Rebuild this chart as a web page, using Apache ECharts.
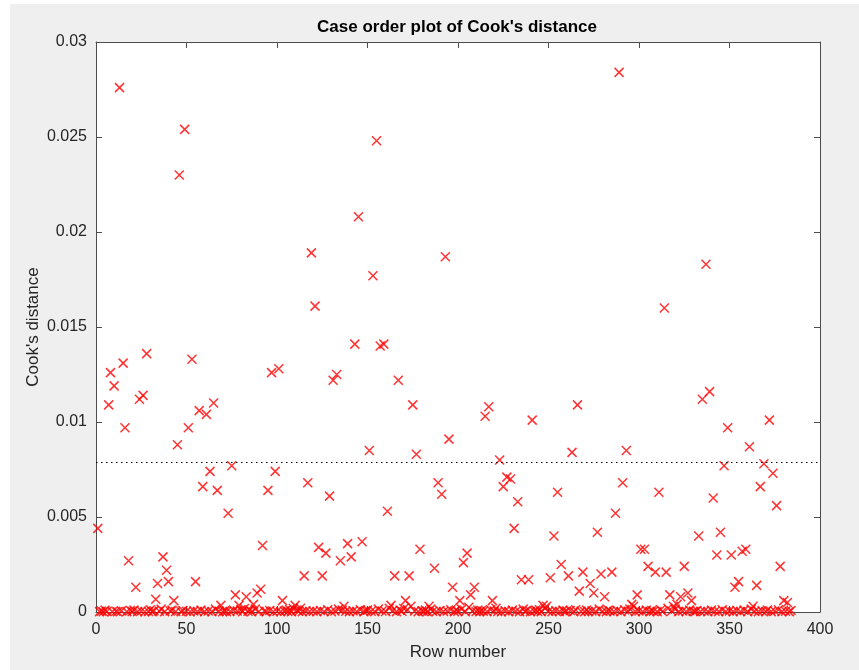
<!DOCTYPE html>
<html>
<head>
<meta charset="utf-8">
<title>Case order plot of Cook's distance</title>
<script src="https://cdn.jsdelivr.net/npm/echarts@6/dist/echarts.min.js"></script>
<style>
  html, body { margin: 0; padding: 0; background: #ffffff; }
  #frame { position: absolute; left: 10px; top: 4px; width: 849px; height: 666px; background: #efefef; }
  #chart { position: absolute; left: 0; top: 0; width: 859px; height: 670px; }
</style>
</head>
<body>
<div id="frame"></div>
<div id="chart"></div>
<script>
const cookD = [
  0.0044, 0.00002, 0.00005, 0.00001, 0.0001, 0.00003, 0.0109, 0.0126, 0.00002, 0.0119,
  0.00004, 0.00001, 0.0276, 0.00006, 0.0131, 0.0097, 0.00002, 0.0027, 0.00008, 0.00003,
  0.0001, 0.0013, 0.00002, 0.0112, 0.00005, 0.0114, 0.00001, 0.0136, 0.00003, 0.00012,
  0.00002, 0.00006, 0.00067, 0.0015, 0.00004, 0.00015, 0.0029, 0.00002, 0.0022, 0.0016,
  0.00005, 0.0001, 0.0006, 0.00003, 0.0088, 0.0230, 0.00002, 0.00008, 0.0254, 0.00004,
  0.0097, 0.00001, 0.0133, 0.00006, 0.0016, 0.00003, 0.0106, 0.0001, 0.0066, 0.00002,
  0.0104, 0.00005, 0.0074, 0.00002, 0.0110, 0.00015, 0.0064, 0.00004, 0.00035, 0.00001,
  0.00006, 0.00002, 0.0052, 0.00003, 0.0077, 0.0001, 0.0009, 0.00005, 0.00035, 0.00012,
  0.00002, 0.00018, 0.0008, 0.00004, 0.0001, 0.00002, 0.0004, 0.00015, 0.0010, 0.00003,
  0.0012, 0.0035, 0.00005, 0.00002, 0.0064, 0.00008, 0.0126, 0.00001, 0.0074, 0.00004,
  0.0128, 0.00002, 0.0006, 0.00005, 0.0001, 0.00003, 0.00012, 0.00002, 0.00018, 0.00035,
  0.0001, 0.00004, 0.0002, 0.00002, 0.0019, 0.00006, 0.0068, 0.00003, 0.0189, 0.00005,
  0.0161, 0.00002, 0.0034, 0.00008, 0.0019, 0.00003, 0.0031, 0.00012, 0.0061, 0.00002,
  0.0122, 0.00005, 0.0125, 0.00015, 0.0027, 0.0001, 0.0003, 0.00004, 0.0036, 0.00002,
  0.0029, 0.00006, 0.0141, 0.00003, 0.0208, 0.00012, 0.0037, 0.00002, 0.00008, 0.0001,
  0.0085, 0.00004, 0.0177, 0.00002, 0.0248, 0.00015, 0.0140, 0.00005, 0.0141, 0.00003,
  0.0053, 0.0002, 0.00035, 0.00008, 0.0019, 0.00002, 0.0122, 0.0001, 0.00004, 0.00018,
  0.0006, 0.00012, 0.0019, 0.0003, 0.0109, 0.00005, 0.0083, 0.00002, 0.0033, 0.00006,
  0.00003, 0.0001, 0.00002, 0.0003, 0.00015, 0.00004, 0.0023, 0.00002, 0.0068, 0.00008,
  0.0062, 0.00003, 0.0187, 0.00005, 0.0091, 0.00012, 0.0013, 0.00002, 0.0001, 0.00004,
  0.0006, 0.00015, 0.0026, 0.00002, 0.0031, 0.00025, 0.0009, 0.00006, 0.0013, 0.00003,
  0.0001, 0.00002, 0.00008, 0.00004, 0.0103, 0.00002, 0.0108, 0.00012, 0.0006, 0.00005,
  0.0002, 0.00003, 0.0080, 0.00001, 0.0066, 0.00006, 0.0071, 0.00002, 0.0070, 0.0001,
  0.0044, 0.00004, 0.0058, 0.00002, 0.0017, 0.00015, 0.00003, 0.00008, 0.0017, 0.00002,
  0.0101, 0.00005, 0.0001, 0.00003, 0.00012, 0.00002, 0.00035, 0.00018, 0.0003, 0.00004,
  0.0018, 0.00002, 0.0040, 0.00006, 0.0063, 0.00003, 0.0025, 0.0001, 0.00002, 0.00005,
  0.0019, 0.00008, 0.0084, 0.00002, 0.00012, 0.0109, 0.0011, 0.00004, 0.0021, 0.00002,
  0.0001, 0.00003, 0.0015, 0.00006, 0.0010, 0.00002, 0.0042, 0.00015, 0.0020, 0.00004,
  0.0008, 0.00002, 0.0001, 0.00005, 0.0021, 0.00003, 0.0052, 0.00008, 0.0284, 0.00002,
  0.0068, 0.00012, 0.0085, 0.00004, 0.00015, 0.0004, 0.0003, 0.00002, 0.0009, 0.00006,
  0.0033, 0.00003, 0.0033, 0.0001, 0.0024, 0.00002, 0.00008, 0.00004, 0.0021, 0.00002,
  0.0063, 0.00012, 0.00003, 0.0160, 0.0021, 0.0002, 0.0009, 0.00005, 0.0003, 0.00015,
  0.0004, 0.00002, 0.0008, 0.00006, 0.0024, 0.00003, 0.0010, 0.0001, 0.0006, 0.00004,
  0.00002, 0.00008, 0.0040, 0.00003, 0.0112, 0.00005, 0.0183, 0.00002, 0.0116, 0.0001,
  0.0060, 0.00004, 0.0030, 0.00002, 0.0042, 0.00012, 0.0077, 0.00003, 0.0097, 0.00006,
  0.0030, 0.00002, 0.0013, 0.00008, 0.0016, 0.00003, 0.0032, 0.0001, 0.0033, 0.00002,
  0.0087, 0.00015, 0.0003, 0.00004, 0.0014, 0.00002, 0.0066, 0.00006, 0.0078, 0.00003,
  0.0001, 0.0101, 0.00002, 0.0073, 0.00005, 0.0056, 0.00012, 0.0024, 0.00002, 0.0006,
  0.00004, 0.0005, 0.00002, 0.00008
];

// reference line (3 * mean Cook's distance)
const threshold = 0.0079;

const xTicks = [0, 50, 100, 150, 200, 250, 300, 350, 400];
const yTicks = [0, 0.005, 0.01, 0.015, 0.02, 0.025, 0.03];

const points = cookD.map((d, i) => [i + 1, d]);

const axisColor = "#4d4d4d";
const textColor = "#262626";
const fontFamily = "'Liberation Sans', Arial, Helvetica, sans-serif";

// shared axis look, MATLAB style box with inward ticks
const baseX = {
  type: "value",
  min: xTicks[0],
  max: xTicks[xTicks.length - 1],
  interval: 50,
  splitLine: { show: false },
  axisLine: { show: true, onZero: false, lineStyle: { color: axisColor, width: 1 } },
  axisTick: { show: true, inside: true, length: 6, lineStyle: { color: axisColor } },
};
const baseY = {
  type: "value",
  min: yTicks[0],
  max: yTicks[yTicks.length - 1],
  interval: 0.005,
  splitLine: { show: false },
  axisLine: { show: true, onZero: false, lineStyle: { color: axisColor, width: 1 } },
  axisTick: { show: true, inside: true, length: 6, lineStyle: { color: axisColor } },
};

const chart = echarts.init(document.getElementById("chart"), null, { renderer: "canvas" });

const option = {
  backgroundColor: "transparent",
  animation: false,
  title: {
    text: "Case order plot of Cook's distance",
    left: 457,
    top: 19,
    textAlign: "center",
    padding: 0,
    textStyle: { fontFamily, fontSize: 17, fontWeight: "bold", color: "#000" },
  },
  grid: {
    left: 96,
    right: 39,
    top: 42,
    bottom: 58,
    show: true,
    backgroundColor: "#ffffff",
    borderWidth: 0,
  },
  xAxis: [
    {
      ...baseX,
      position: "bottom",
      name: "Row number",
      nameLocation: "middle",
      nameGap: 32,
      nameMoveOverlap: false,
      nameTextStyle: { fontFamily, fontSize: 17, color: textColor },
      axisLabel: { margin: 10, fontFamily, fontSize: 16, color: textColor },
    },
    {
      ...baseX,
      position: "top",
      axisLabel: { show: false },
    },
  ],
  yAxis: [
    {
      ...baseY,
      position: "left",
      name: "Cook's distance",
      nameLocation: "middle",
      nameGap: 54,
      nameMoveOverlap: false,
      nameTextStyle: { fontFamily, fontSize: 17, color: textColor },
      axisLabel: {
        margin: 9,
        fontFamily,
        fontSize: 16,
        color: textColor,
        formatter: (v) => String(+v.toFixed(3)),
      },
    },
    {
      ...baseY,
      position: "right",
      axisLabel: { show: false },
    },
  ],
  series: [
    {
      name: "Cook's distance",
      type: "scatter",
      xAxisIndex: 0,
      yAxisIndex: 0,
      data: points,
      clip: false,
      symbol: "path://M0,0L10,10M10,0L0,10",
      symbolSize: 9,
      itemStyle: { color: "none", borderColor: "#ff0000", borderWidth: 1.5 },
      markLine: {
        silent: true,
        symbol: "none",
        precision: 5,
        label: { show: false },
        lineStyle: { color: "#000", width: 1, type: [1.5, 3.5] },
        data: [{ yAxis: threshold }],
      },
    },
  ],
};

chart.setOption(option);
</script>
</body>
</html>
